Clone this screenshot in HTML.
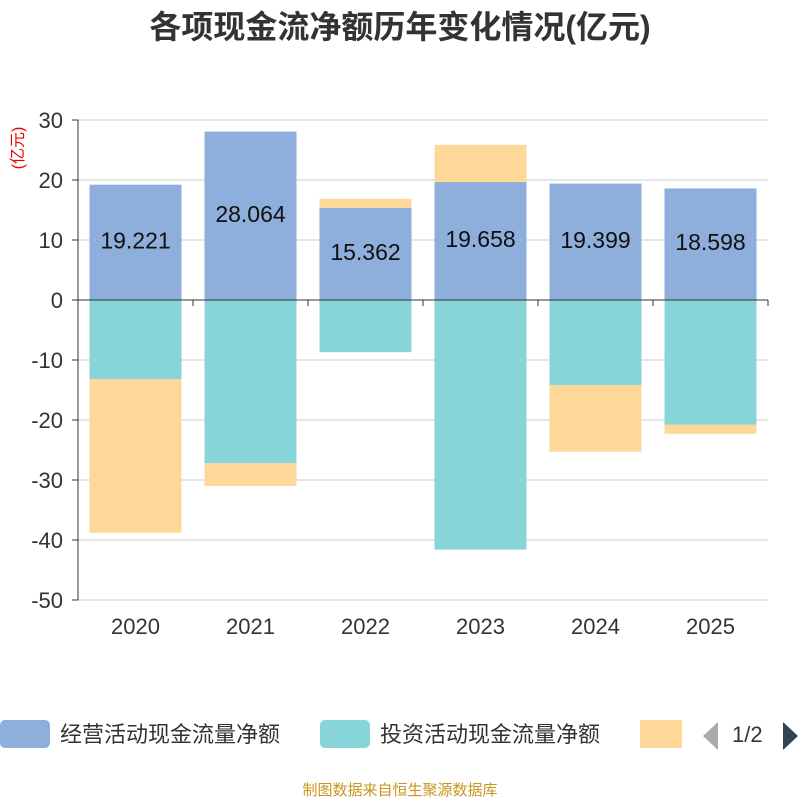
<!DOCTYPE html>
<html><head><meta charset="utf-8"><style>
body{margin:0;background:#fff;width:800px;height:800px;overflow:hidden;font-family:"Liberation Sans","Noto Sans CJK SC",sans-serif;}
</style></head><body>
<svg id="c" width="800" height="800" xmlns="http://www.w3.org/2000/svg">
<text x="400" y="38" text-anchor="middle" font-size="32" font-weight="bold" fill="#333" font-family="Liberation Sans,Noto Sans CJK SC,sans-serif">各项现金流净额历年变化情况(亿元)</text>
<text transform="translate(23,148) rotate(-90)" text-anchor="middle" font-size="16" fill="#e00" font-family="Liberation Sans,Noto Sans CJK SC,sans-serif">(亿元)</text>
<g id="grid"></g><g id="bars"></g><g id="axes"></g>
<g font-family="Liberation Sans,Noto Sans CJK SC,sans-serif" font-size="22" fill="#333">
<rect x="0" y="720" width="50" height="28" rx="5" fill="#8eaedb"/>
<text x="60" y="742">经营活动现金流量净额</text>
<rect x="320" y="720" width="50" height="28" rx="5" fill="#88d5d9"/>
<text x="380" y="742">投资活动现金流量净额</text>
<rect x="640" y="720" width="42" height="28" fill="#fed898"/>
<polygon points="718,722 718,750 703,736" fill="#aaa"/>
<text x="732" y="742">1/2</text>
<polygon points="783,722 783,750 798,736" fill="#2f4554"/>
</g>
<text x="400" y="795" text-anchor="middle" font-size="15" fill="#c8961e" font-family="Liberation Sans,Noto Sans CJK SC,sans-serif">制图数据来自恒生聚源数据库</text>
</svg>
<script>
const years=["2020","2021","2022","2023","2024","2025"];
const operating=[19.221,28.064,15.362,19.658,19.399,18.598];
const investing=[-13.2,-27.2,-8.7,-41.6,-14.2,-20.8];
const financing=[-25.6,-3.8,1.5,6.2,-11.1,-1.5];
const ticks=[30,20,10,0,-10,-20,-30,-40,-50];
const NS="http://www.w3.org/2000/svg";
const x0=78,x1=768,band=(x1-x0)/years.length,bw=92;
const y=v=>300-v*6;
function mk(t,a,p){const e=document.createElementNS(NS,t);for(const k in a)e.setAttribute(k,a[k]);p.appendChild(e);return e;}
const grid=document.getElementById('grid'),bars=document.getElementById('bars'),axes=document.getElementById('axes');
ticks.forEach(t=>{
 const l=mk('line',{x1:x0,x2:x1,y1:y(t),y2:y(t),stroke:'#ccc','stroke-width':1},grid);
 
 
 const tx=mk('text',{x:63,y:y(t)+8,'text-anchor':'end','font-size':22,fill:'#333'},axes);tx.textContent=t;
 
 
 mk('line',{x1:x0-6,x2:x0,y1:y(t),y2:y(t),stroke:'#333'},axes);
});
years.forEach((yr,i)=>{
 const bx=x0+i*band+(band-bw)/2;
 let pos=0,neg=0;
 const segs=[[operating[i],'#8eaedb','bar-operating-'+yr],[investing[i],'#88d5d9','bar-investing-'+yr],[financing[i],'#fed898','bar-financing-'+yr]];
 segs.forEach(([v,c,n])=>{
  let top,bot;
  if(v>=0){top=pos+v;bot=pos;pos=top;}else{top=neg;bot=neg+v;neg=bot;}
  const r=mk('rect',{x:bx,y:y(top),width:bw,height:y(bot)-y(top),fill:c},bars);
  
  
 });
 const lt=mk('text',{x:bx+bw/2,y:y(operating[i]/2)+6,'text-anchor':'middle','font-size':23,fill:'#111'},bars);
 lt.textContent=operating[i].toFixed(3);
 
 
 const xt=mk('text',{x:x0+i*band+band/2,y:634,'text-anchor':'middle','font-size':22,fill:'#333'},axes);xt.textContent=yr;
 
 
 mk('line',{x1:x0+i*band,x2:x0+i*band,y1:300,y2:306,stroke:'#333'},axes);
});
mk('line',{x1:x1,x2:x1,y1:300,y2:306,stroke:'#333'},axes);
mk('line',{x1:x0,x2:x0,y1:y(30),y2:y(-50),stroke:'#333'},axes);
const za=mk('line',{x1:x0,x2:x1,y1:300,y2:300,stroke:'#333'},axes);


</script>
</body></html>
